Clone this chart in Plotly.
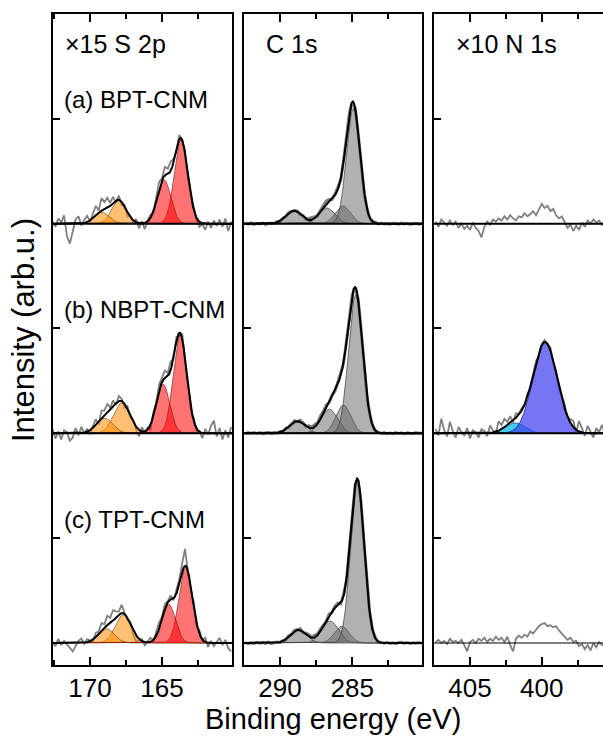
import numpy as np
import plotly.graph_objects as go

# ------------------------------------------------------------------ data
ROW_OFFSETS = [2.0, 1.0, 0.0]          # (a), (b), (c)
ROW_LABELS = ["(a) BPT-CNM", "(b) NBPT-CNM", "(c) TPT-CNM"]
COL_TITLES = ["\u00d715 S 2p", "C 1s", "\u00d710 N 1s"]
X_TITLE = "Binding energy (eV)"
Y_TITLE = "Intensity (arb.u.)"

S_RANGE = [172.57, 160.14]
C_RANGE = [292.49, 280.18]
N_RANGE = [407.51, 395.73]

S_DATA_START, S_DATA_STOP = 172.6, 160.2
C_DATA_START, C_DATA_STOP = 292.4, 280.2
N_DATA_START, N_DATA_STOP = 407.4, 395.6

# S 2p fit components: (centre eV, height, FWHM eV)
S_RED = [
    [(163.68, 0.400, 1.10), (164.86, 0.210, 1.10)],
    [(163.75, 0.470, 1.10), (164.93, 0.235, 1.10)],
    [(163.36, 0.360, 1.10), (164.54, 0.185, 1.10)],
]
S_ORANGE = [
    [(168.00, 0.110, 1.20), (169.18, 0.055, 1.20)],
    [(167.80, 0.145, 1.35), (168.98, 0.072, 1.35)],
    [(167.69, 0.135, 1.30), (168.87, 0.068, 1.30)],
]
# residuals of measured S 2p data around the fit (x 1/1000)
S_RESID = [
    [10, -15, 25, 5, 40, -60, -95, -40, 20, 35,
     -10, 15, 30, -5, 20, 45, 10, 60, 35, 50,
     15, 30, -10, 20, -15, 10, -20, 5, -10, 15,
     -25, 10, -30, 5, 15, -10, 20, 35, 10, 40,
     25, 45, 15, -10, 20, -5, 10, -15, 5, 20,
     -10, -25, -5, -30, 10, -20, 15, -10, 20, -15,
     25, -35, 10],
    [20, -25, 10, -30, 15, 5, -35, -20, 25, -10,
     30, -5, 15, -20, 10, 25, -15, 35, 20, 40,
     10, 30, -5, 25, 10, -20, 15, -10, 5, -15,
     -30, 20, -5, 10, -25, 15, 5, 30, 20, 35,
     15, 40, -10, 20, -15, 25, -5, 10, -20, 15,
     -10, 5, -25, 20, -5, 35, 60, -15, 25, -30,
     15, -20, 30],
    [5, -15, 20, -10, 10, -5, -25, -40, -15, 10,
     20, -5, 15, 5, -10, 20, 10, 35, 15, 45,
     25, 50, 30, 15, 40, 5, -10, 10, -20, -30,
     -5, 10, -15, 5, 20, -5, 15, 30, 10, 25,
     5, 20, -10, 15, 20, 40, 80, -5, -15, 20,
     -10, 15, -5, 20, -20, 10, -15, 5, 25, -10,
     15, -25, -40],
]

# C 1s fit components
C_MAIN = [
    [(284.93, 0.550, 1.10)],
    [(284.77, 0.660, 1.15)],
    [(284.65, 0.775, 1.10)],
]
C_SIDE = [
    [(285.66, 0.085, 1.20), (286.77, 0.075, 1.30), (289.03, 0.062, 1.30)],
    [(285.62, 0.135, 1.20), (286.60, 0.115, 1.35), (288.80, 0.058, 1.30)],
    [(285.73, 0.080, 1.20), (286.54, 0.105, 1.35), (288.73, 0.062, 1.30)],
]
C_ENVELOPE_EXTRA = [
    [(286.20, 0.030, 1.00)],
    [(286.00, 0.040, 1.00)],
    [(285.90, 0.030, 1.00)],
]
C_RESID = [
    [3, -2, 4, -3, 2, -1, 3, -4, 2, 1,
     -2, 3, -1, 2, -3, 4, -2, 1, 3, -2,
     5, -3, 8, 10, 5, -4, 6, 12, 15, 8,
     -5, 4, 10, -6, 3, -8, 5, -3, 2, -4,
     3, -2, 1, -3, 2, 4, -2, 3, -1, 2,
     -3, 1, 2, -2, 3, -1, 2, -3, 1, 2,
     -2, 1],
    [-2, 3, -1, 4, -2, 2, -3, 1, 3, -2,
     2, -1, 3, -2, 4, -3, 2, 6, -2, 8,
     4, -3, 10, 6, 12, 4, 14, 8, 10, -4,
     6, -5, 8, 12, -6, 4, -7, 3, -2, 3,
     -2, 2, -3, 1, 3, -2, 2, -1, 3, -2,
     1, -2, 3, -1, 2, -3, 2, 1, -2, 3,
     -1, 2],
    [2, -3, 1, -2, 3, -1, 2, -2, 4, -3,
     1, 3, -2, 2, -3, 5, -2, 6, 3, 8,
     -3, 6, 9, 4, 11, 6, 10, 5, -4, 7,
     -6, 9, 12, -5, 6, -8, 4, -2, 3, -3,
     2, -1, 3, -2, 1, 2, -3, 2, -1, 3,
     -2, 1, -3, 2, 3, -1, 2, -2, 1, -1,
     2, -2],
]

# N 1s
N_MAIN_B = [(399.77, 0.435, 2.00)]
N_MINOR_B = [(401.86, 0.050, 1.60)]
N_RESID_B = [20, -10, 70, 15, -15, 55, 10, -20, 30, 5,
             -10, 25, -25, 15, 5, -20, 20, 10, -15, 35,
             10, -5, 45, 20, 40, 15, 30, -10, 20, 5,
             10, -5, 15, -10, 5, 10, -15, 5, 10, -5,
             15, -10, 5, -15, 10, 20, -5, 15, 30, -10,
             50, 20, -15, 35, 10, -20, 25, 5, 40, -5]
# raw N 1s intensities for (a) and (c) (x 1/1000)
N_RAW_A = [10, -15, 20, 5, -10, 15, -5, 10, -20, 0,
           -25, -10, -30, 5, -20, -35, -65, -15, 10, -5,
           20, 10, 25, 15, 35, 20, 40, 25, 15, 35,
           30, 50, 35, 45, 60, 40, 70, 95, 75, 85,
           60, 70, 40, 25, 35, 5, -20, -5, -35, -10,
           -30, 5, -15, 15, 0, 20, 5, 15, -5, 10]
N_RAW_C = [5, 15, 0, 10, -5, 20, 5, 10, 0, 15,
           -10, -40, 5, 15, 0, 20, 10, 25, 5, 20,
           10, 30, 15, 25, 5, 30, -10, -40, 20, 35,
           25, 40, 30, 55, 45, 65, 80, 90, 95, 80,
           85, 75, 80, 60, 45, 30, 15, 25, 5, 10,
           -15, -5, -30, -10, -35, 0, -20, 5, -10, 0]

# ------------------------------------------------------------------ helpers
FONT = "Liberation Sans, Arial, sans-serif"
W, H = 603, 738
ML, MR, MT, MB = 53, 0, 14, 73
PW, PH = W - ML - MR, H - MT - MB
COL_PX = [(53, 232), (244, 422), (434, 603)]


def gauss(x, peak):
    c, h, w = peak
    return h * np.exp(-4 * np.log(2) * (x - c) ** 2 / w ** 2)


def total(x, peaks):
    out = np.zeros_like(x)
    for p in peaks:
        out = out + gauss(x, p)
    return out


def px(xpx):
    return (xpx - ML) / PW


def py(ypx):
    return (H - MB - ypx) / PH


fig = go.Figure()
GREY = "rgb(128,128,128)"


def add_fill(ax, xf, comp, off, fill, edge):
    fig.add_trace(go.Scatter(
        x=np.concatenate([xf, xf[::-1]]),
        y=np.concatenate([off + comp, np.full_like(xf, off)]),
        fill="toself", fillcolor=fill, mode="lines", line=dict(width=0),
        xaxis=ax[0], yaxis=ax[1], hoverinfo="skip", showlegend=False))
    fig.add_trace(go.Scatter(
        x=xf, y=off + comp, mode="lines", line=dict(color=edge, width=1),
        xaxis=ax[0], yaxis=ax[1], hoverinfo="skip", showlegend=False))


def add_line(ax, x, y, color, width):
    fig.add_trace(go.Scatter(
        x=x, y=y, mode="lines", line=dict(color=color, width=width),
        xaxis=ax[0], yaxis=ax[1], hoverinfo="skip", showlegend=False))


# ---- S 2p column
axS = ("x", "y")
xS = np.linspace(S_DATA_START, S_DATA_STOP, len(S_RESID[0]))
xSf = np.linspace(S_RANGE[0], S_RANGE[1], 700)
for r in range(3):
    off = ROW_OFFSETS[r]
    peaks = S_RED[r] + S_ORANGE[r]
    raw = total(xS, peaks) + np.array(S_RESID[r]) / 1000.0
    add_line(axS, xS, off + raw, GREY, 1.8)
    for p in S_ORANGE[r]:
        add_fill(axS, xSf, gauss(xSf, p), off, "rgba(255,140,0,0.55)", "rgba(110,60,10,0.6)")
    for p in S_RED[r]:
        add_fill(axS, xSf, gauss(xSf, p), off, "rgba(255,0,0,0.55)", "rgba(110,20,20,0.6)")
    add_line(axS, xSf, off + total(xSf, peaks), "black", 2)

# ---- C 1s column
axC = ("x2", "y2")
xC = np.linspace(C_DATA_START, C_DATA_STOP, len(C_RESID[0]))
xCf = np.linspace(C_RANGE[0], C_RANGE[1], 700)
for r in range(3):
    off = ROW_OFFSETS[r]
    peaks = C_MAIN[r] + C_SIDE[r]
    env_peaks = peaks + C_ENVELOPE_EXTRA[r]
    raw = total(xC, env_peaks) + np.array(C_RESID[r]) / 1000.0
    add_line(axC, xC, off + raw, GREY, 3)
    for p in C_SIDE[r] + C_MAIN[r]:
        add_fill(axC, xCf, gauss(xCf, p), off, "rgba(100,100,100,0.5)", "rgba(60,60,60,0.7)")
    add_line(axC, xCf, off + total(xCf, env_peaks), "black", 2)

# ---- N 1s column
axN = ("x3", "y3")
xN = np.linspace(N_DATA_START, N_DATA_STOP, len(N_RESID_B))
xNf = np.linspace(N_RANGE[0], N_RANGE[1], 700)
# (a)
add_line(axN, xN, ROW_OFFSETS[0] + np.array(N_RAW_A) / 1000.0, GREY, 1.8)
# (b)
offB = ROW_OFFSETS[1]
peaksB = N_MAIN_B + N_MINOR_B
add_line(axN, xN, offB + total(xN, peaksB) + np.array(N_RESID_B) / 1000.0, GREY, 1.8)
for p in N_MINOR_B:
    add_fill(axN, xNf, gauss(xNf, p), offB, "rgba(0,190,230,0.75)", "rgba(20,60,110,0.7)")
for p in N_MAIN_B:
    add_fill(axN, xNf, gauss(xNf, p), offB, "rgba(60,60,240,0.7)", "rgba(20,20,110,0.7)")
add_line(axN, xNf, offB + total(xNf, peaksB), "black", 2)
# (c)
add_line(axN, xN, ROW_OFFSETS[2] + np.array(N_RAW_C) / 1000.0, GREY, 1.8)
add_line(axN, xNf, np.full_like(xNf, ROW_OFFSETS[2]), "black", 1.2)

# ------------------------------------------------------------------ layout
Y_RANGE = [-0.105, 3.0]
xaxis_common = dict(
    showline=True, linewidth=2, linecolor="black", mirror="ticks",
    ticks="inside", ticklen=8, tickwidth=1.5, tickcolor="black",
    dtick=5, tick0=0, showgrid=False, zeroline=False,
    tickfont=dict(family=FONT, size=26, color="black"),
    ticklabelstandoff=-1,
    minor=dict(dtick=2.5, tick0=0, ticks="inside", ticklen=5, tickwidth=1.5,
               tickcolor="black", showgrid=False),
)
yaxis_common = dict(
    range=Y_RANGE, showline=True, linewidth=2, linecolor="black",
    ticks="inside", ticklen=7, tickwidth=1.5, tickcolor="black",
    tickvals=[0.5, 1.5, 2.5], showticklabels=False,
    showgrid=False, zeroline=False,
)

layout = dict(
    width=W, height=H, margin=dict(l=ML, r=MR, t=MT, b=MB),
    paper_bgcolor="white", plot_bgcolor="white", showlegend=False,
    font=dict(family=FONT, color="black"),
)
ranges = [S_RANGE, C_RANGE, N_RANGE]
for i in range(3):
    sfx = "" if i == 0 else str(i + 1)
    dom = [px(COL_PX[i][0]), min(1.0, px(COL_PX[i][1]))]
    xa = dict(xaxis_common)
    xa.update(domain=dom, range=ranges[i], anchor="y" + sfx)
    ya = dict(yaxis_common)
    ya.update(domain=[0, 1], anchor="x" + sfx, mirror=(i < 2))
    layout["xaxis" + sfx] = xa
    layout["yaxis" + sfx] = ya
fig.update_layout(**layout)

# separators between rows
shapes = []
for i in range(3):
    sfx = "" if i == 0 else str(i + 1)
    for yv in (1.0, 2.0):
        shapes.append(dict(type="line", xref="x" + sfx + " domain", yref="y" + sfx,
                           x0=0, x1=1, y0=yv, y1=yv,
                           line=dict(color="black", width=2)))
fig.update_layout(shapes=shapes)

ann = []
label_x = [63, 264, 454]
for i, t in enumerate(COL_TITLES):
    ann.append(dict(text=t, x=px(label_x[i]), y=py(44), xref="paper", yref="paper",
                    xanchor="left", yanchor="middle", showarrow=False,
                    font=dict(family=FONT, size=25, color="black")))
for r, t in enumerate(ROW_LABELS):
    ann.append(dict(text=t, x=px(62), y=py(99 + 210 * r), xref="paper", yref="paper",
                    xanchor="left", yanchor="middle", showarrow=False,
                    font=dict(family=FONT, size=24, color="black")))
ann.append(dict(text=X_TITLE, x=px(333), y=py(719), xref="paper", yref="paper",
                xanchor="center", yanchor="middle", showarrow=False,
                font=dict(family=FONT, size=29, color="black")))
ann.append(dict(text=Y_TITLE, x=px(23), y=py(330), xref="paper", yref="paper",
                xanchor="center", yanchor="middle", showarrow=False, textangle=-90,
                font=dict(family=FONT, size=31, color="black")))
fig.update_layout(annotations=ann)

fig.write_html("out.html")
